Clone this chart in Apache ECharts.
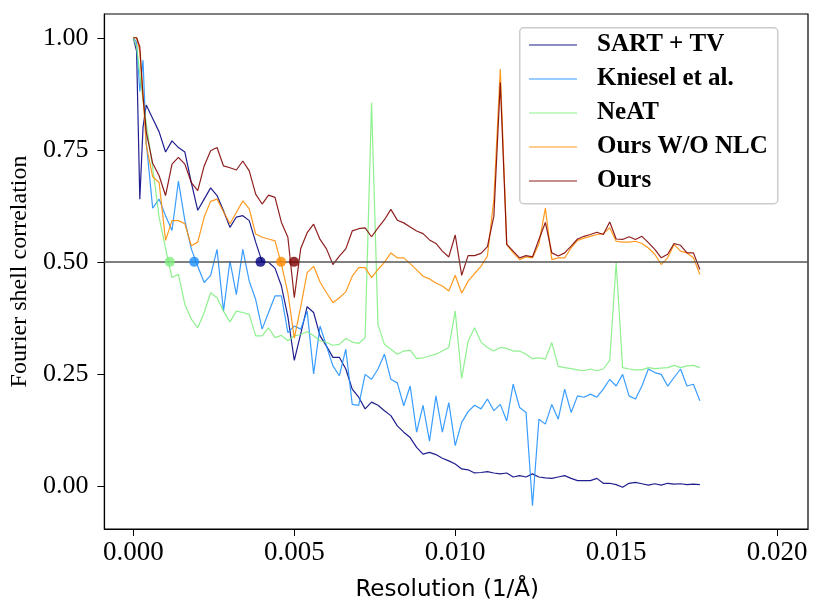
<!DOCTYPE html>
<html>
<head>
<meta charset="utf-8">
<script src="https://cdn.jsdelivr.net/npm/echarts@6/dist/echarts.min.js"></script>
<style>
  html, body { margin: 0; padding: 0; background: #fff; }
  #fscChart { width: 824px; height: 607px; }
</style>
</head>
<body>
<div id="fscChart"></div>
<script>
  // resolution (1/A) sample positions, shared by all curves
  var resolution = [0, 0.0001, 0.0002, 0.0003, 0.0004, 0.0006, 0.0008, 0.0010, 0.0012, 0.0014,
    0.0016, 0.0018, 0.0020, 0.0022, 0.0024, 0.0026, 0.0028, 0.0030, 0.0032, 0.0034,
    0.0036, 0.0038, 0.0040, 0.0042, 0.0044, 0.0046, 0.0048, 0.0050, 0.0052, 0.0054,
    0.0056, 0.0058, 0.0060, 0.0062, 0.0064, 0.0066, 0.0068, 0.0070, 0.0072, 0.0074,
    0.0076, 0.0078, 0.0080, 0.0082, 0.0084, 0.0086, 0.0088, 0.0090, 0.0092, 0.0094,
    0.0096, 0.0098, 0.0100, 0.0102, 0.0104, 0.0106, 0.0108, 0.0110, 0.0112, 0.0114,
    0.0116, 0.0118, 0.0120, 0.0122, 0.0124, 0.0126, 0.0128, 0.0130, 0.0132, 0.0134,
    0.0136, 0.0138, 0.0140, 0.0142, 0.0144, 0.0146, 0.0148, 0.0150, 0.0152, 0.0154,
    0.0156, 0.0158, 0.0160, 0.0162, 0.0164, 0.0166, 0.0168, 0.0170, 0.0172, 0.0174,
    0.0176]

  var sartTv = [1.00, 0.97, 0.64, 0.80, 0.85, 0.82, 0.79, 0.745, 0.77, 0.755,
    0.745, 0.677, 0.615, 0.64, 0.665, 0.648, 0.614, 0.577, 0.60, 0.603,
    0.592, 0.544, 0.50, 0.499, 0.486, 0.446, 0.378, 0.28, 0.34, 0.40,
    0.387, 0.335, 0.312, 0.287, 0.287, 0.261, 0.216, 0.198, 0.172, 0.187,
    0.18, 0.168, 0.157, 0.134, 0.12, 0.108, 0.086, 0.071, 0.075, 0.07,
    0.062, 0.056, 0.049, 0.038, 0.036, 0.029, 0.03, 0.032, 0.029, 0.027,
    0.029, 0.02, 0.023, 0.02, 0.027, 0.02, 0.018, 0.017, 0.02, 0.023,
    0.017, 0.012, 0.012, 0.012, 0.017, 0.006, 0.006, 0.003, -0.003, 0.006,
    0.008, 0.005, 0.002, 0.005, 0.002, 0.006, 0.004, 0.005, 0.003, 0.004,
    0.003]

  var kniesel = [1.00, 0.99, 0.88, 0.95, 0.767, 0.62, 0.64, 0.603, 0.57, 0.68,
    0.592, 0.529, 0.49, 0.454, 0.47, 0.528, 0.39, 0.502, 0.427, 0.528,
    0.457, 0.416, 0.35, 0.387, 0.424, 0.424, 0.342, 0.357, 0.35, 0.39,
    0.25, 0.357, 0.312, 0.268, 0.246, 0.305, 0.182, 0.18, 0.249, 0.238,
    0.261, 0.294, 0.238, 0.23, 0.179, 0.223, 0.12, 0.18, 0.10, 0.201,
    0.12, 0.186, 0.09, 0.142, 0.166, 0.18, 0.172, 0.194, 0.168, 0.182,
    0.145, 0.227, 0.175, 0.164, -0.044, 0.149, 0.138, 0.182, 0.149, 0.216,
    0.164, 0.201, 0.198, 0.205, 0.198, 0.216, 0.238, 0.223, 0.249, 0.201,
    0.194, 0.223, 0.261, 0.253, 0.249, 0.223, 0.242, 0.261, 0.223, 0.227,
    0.19]

  var neat = [1.00, 0.98, 0.92, 0.86, 0.81, 0.71, 0.60, 0.53, 0.465, 0.472,
    0.405, 0.372, 0.353, 0.387, 0.431, 0.42, 0.39, 0.366, 0.39, 0.387,
    0.383, 0.335, 0.335, 0.353, 0.331, 0.336, 0.324, 0.335, 0.338, 0.344,
    0.335, 0.324, 0.32, 0.314, 0.316, 0.329, 0.321, 0.318, 0.331, 0.855,
    0.36, 0.316, 0.305, 0.294, 0.301, 0.303, 0.284, 0.286, 0.29, 0.294,
    0.301, 0.309, 0.39, 0.24, 0.323, 0.353, 0.321, 0.309, 0.301, 0.309,
    0.307, 0.301, 0.301, 0.294, 0.284, 0.286, 0.283, 0.32, 0.267, 0.264,
    0.262, 0.259, 0.257, 0.261, 0.257, 0.261, 0.28, 0.498, 0.264, 0.261,
    0.259, 0.259, 0.264, 0.262, 0.263, 0.264, 0.269, 0.264, 0.268, 0.269,
    0.264]

  var oursWoNlc = [1.00, 1.00, 0.97, 0.87, 0.76, 0.69, 0.677, 0.548, 0.592, 0.592,
    0.585, 0.536, 0.544, 0.60, 0.635, 0.64, 0.612, 0.585, 0.61, 0.636,
    0.618, 0.562, 0.555, 0.551, 0.547, 0.495, 0.431, 0.33, 0.40, 0.476,
    0.49, 0.455, 0.431, 0.409, 0.42, 0.433, 0.468, 0.487, 0.487, 0.465,
    0.483, 0.499, 0.52, 0.509, 0.509, 0.496, 0.482, 0.468, 0.462, 0.453,
    0.446, 0.435, 0.47, 0.43, 0.457, 0.474, 0.49, 0.513, 0.64, 0.93,
    0.539, 0.52, 0.505, 0.511, 0.509, 0.54, 0.62, 0.505, 0.509, 0.509,
    0.531, 0.548, 0.553, 0.557, 0.561, 0.563, 0.576, 0.546, 0.544, 0.544,
    0.546, 0.541, 0.531, 0.517, 0.494, 0.509, 0.539, 0.524, 0.52, 0.509,
    0.472]

  var ours = [1.00, 1.00, 0.98, 0.87, 0.79, 0.72, 0.692, 0.648, 0.718, 0.733,
    0.718, 0.677, 0.659, 0.714, 0.748, 0.755, 0.714, 0.71, 0.705, 0.725,
    0.703, 0.651, 0.629, 0.649, 0.644, 0.588, 0.555, 0.42, 0.53, 0.565,
    0.584, 0.55, 0.529, 0.494, 0.513, 0.529, 0.569, 0.574, 0.576, 0.556,
    0.576, 0.594, 0.617, 0.593, 0.587, 0.578, 0.569, 0.563, 0.549, 0.541,
    0.524, 0.511, 0.56, 0.47, 0.514, 0.514, 0.519, 0.534, 0.602, 0.90,
    0.539, 0.524, 0.509, 0.514, 0.511, 0.55, 0.588, 0.52, 0.513, 0.52,
    0.535, 0.551, 0.557, 0.561, 0.566, 0.561, 0.589, 0.551, 0.55, 0.556,
    0.55, 0.557, 0.543, 0.528, 0.509, 0.517, 0.541, 0.537, 0.52, 0.52,
    0.483]

  // where each curve first crosses FSC = 0.5 (NeAT, Kniesel, SART, W/O NLC, Ours)
  var crossRes = [0.00113, 0.00189, 0.00395, 0.00459, 0.00499]
  var threshold = 0.5

  var xTicks = [0, 0.005, 0.01, 0.015, 0.02]
  var yTicks = [0, 0.25, 0.5, 0.75, 1]

  var names = ['SART + TV', 'Kniesel et al.', 'NeAT', 'Ours W/O NLC', 'Ours']
  var colors = ['#000080', '#1e90ff', '#80ee80', '#ff8c00', '#800000']
  var crossColors = [colors[2], colors[1], colors[0], colors[3], colors[4]]

  function lineSeries (name, values, color) {
    return {
      name: name,
      type: 'line',
      symbol: 'none',
      showSymbol: false,
      data: resolution.map(function (x, i) { return [x, values[i]] }),
      lineStyle: { width: 1.2, color: color, opacity: 0.88 },
      itemStyle: { color: color }
    }
  }

  var serif = 'Liberation Serif, Times New Roman, serif'

  var myChart = echarts.init(document.getElementById('fscChart'))
  myChart.setOption({
    animation: false,
    backgroundColor: '#fff',
    grid: {
      left: 104,
      right: 16,
      top: 14,
      bottom: 77,
      show: true,
      borderColor: '#000',
      borderWidth: 1.2
    },
    graphic: [{
      type: 'rect',
      left: 519,
      top: 27,
      z: 3,
      shape: { width: 258, height: 176, r: 4 },
      style: { fill: 'rgba(255,255,255,0.8)', stroke: '#cccccc', lineWidth: 1.5 }
    }],
    legend: {
      data: names.map(function (n) { return { name: n, icon: 'rect' } }),
      orient: 'vertical',
      left: 529,
      top: 32,
      padding: 0,
      itemGap: 8,
      itemWidth: 48,
      itemHeight: 1.6,
      z: 4,
      itemStyle: { opacity: 0.6 },
      textStyle: {
        fontFamily: serif,
        fontWeight: 'bold',
        fontSize: 25,
        lineHeight: 26,
        color: '#000',
        padding: [0, 0, 0, 15]
      }
    },
    xAxis: {
      type: 'value',
      min: -0.0009,
      max: 0.02096,
      name: 'Resolution (1/Å)',
      nameLocation: 'middle',
      nameGap: 50,
      nameTextStyle: { fontFamily: 'DejaVu Sans', fontSize: 23, color: '#000', padding: [0, 18, 0, 0] },
      axisLine: { show: true, onZero: false, lineStyle: { color: '#000', width: 1.2 } },
      axisTick: { show: true, length: 7, customValues: xTicks, lineStyle: { color: '#000' } },
      axisLabel: {
        customValues: xTicks,
        formatter: function (v) { return v.toFixed(3) },
        fontFamily: serif,
        fontSize: 27,
        color: '#000',
        margin: 10
      },
      splitLine: { show: false }
    },
    yAxis: {
      type: 'value',
      min: -0.096,
      max: 1.053,
      name: 'Fourier shell correlation',
      nameLocation: 'middle',
      nameGap: 72,
      nameTextStyle: { fontFamily: serif, fontSize: 24, color: '#000' },
      axisLine: { show: true, onZero: false, lineStyle: { color: '#000', width: 1.2 } },
      axisTick: { show: true, length: 7, customValues: yTicks, lineStyle: { color: '#000' } },
      axisLabel: {
        customValues: yTicks,
        formatter: function (v) { return v.toFixed(2) },
        fontFamily: serif,
        fontSize: 26,
        color: '#000',
        margin: 16
      },
      splitLine: { show: false }
    },
    series: [
      lineSeries(names[0], sartTv, colors[0]),
      lineSeries(names[1], kniesel, colors[1]),
      lineSeries(names[2], neat, colors[2]),
      lineSeries(names[3], oursWoNlc, colors[3]),
      lineSeries(names[4], ours, colors[4]),
      {
        name: 'crossing',
        type: 'scatter',
        symbolSize: 10,
        z: 5,
        data: crossRes.map(function (x, i) {
          return { value: [x, threshold], itemStyle: { color: crossColors[i] } }
        }),
        markLine: {
          silent: true,
          symbol: ['none', 'none'],
          label: { show: false },
          lineStyle: { color: '#555', width: 1.5, type: 'solid' },
          data: [{ yAxis: threshold }]
        }
      }
    ]
  })
</script>
</body>
</html>
